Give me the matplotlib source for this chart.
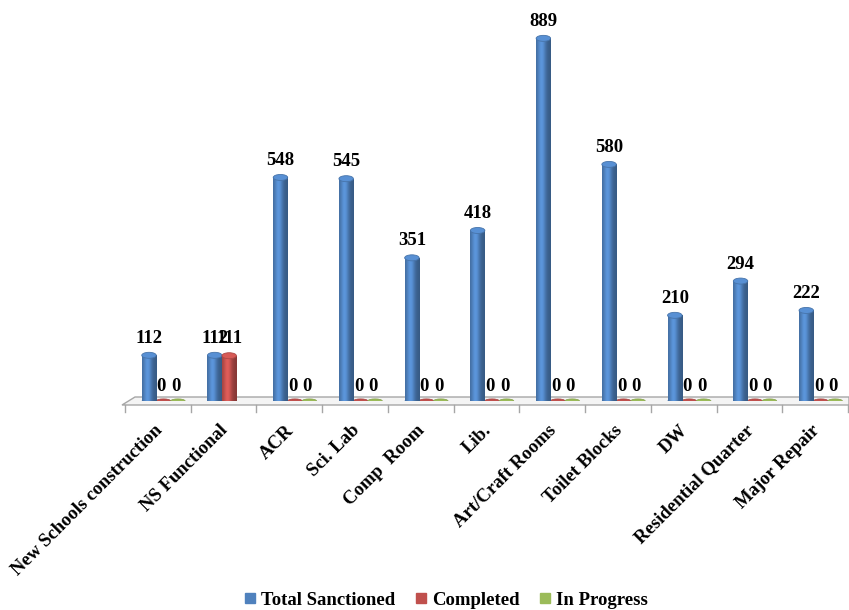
import numpy as np
import matplotlib
matplotlib.use("Agg")
import matplotlib.pyplot as plt
from matplotlib.patches import Ellipse, Polygon
from matplotlib.lines import Line2D
from matplotlib.colors import to_rgb

categories = ["New Schools construction", "NS Functional", "ACR", "Sci. Lab",
              "Comp  Room", "Lib.", "Art/Craft Rooms", "Toilet Blocks", "DW",
              "Residential Quarter", "Major Repair"]
total_sanctioned = [112, 112, 548, 545, 351, 418, 889, 580, 210, 294, 222]
completed = [0, 111, 0, 0, 0, 0, 0, 0, 0, 0, 0]
in_progress = [0, np.nan, 0, 0, 0, 0, 0, 0, 0, 0, 0]

series = [("Total Sanctioned", total_sanctioned, "#4F81BD"),
          ("Completed", completed, "#C0504D"),
          ("In Progress", in_progress, "#9BBB59")]
offsets = [-0.135, 0.085, 0.305]
bar_w = 0.22
FS = 13.5

plt.rcParams["font.family"] = ["Liberation Serif", "DejaVu Serif"]
plt.rcParams["font.weight"] = "bold"

fig = plt.figure(figsize=(8.49, 6.10), dpi=100)
ax = fig.add_axes([125 / 849, 209 / 610, 723 / 849, 381 / 610])
ymax = 934
ax.set_xlim(-0.5, len(categories) - 0.5)
ax.set_ylim(0, ymax)
ax.axis("off")

px_per_unit = 381 / ymax
cap_h = 6 / px_per_unit


def shade(color, n=64):
    r, g, b = to_rgb(color)
    t = np.linspace(0, 1, n)
    # light band left of centre, darker toward edges
    f = 0.80 + 0.40 * np.exp(-((t - 0.38) / 0.28) ** 2) - 0.1 * t
    rgb = np.clip(np.stack([r * f, g * f, b * f], axis=-1), 0, 1)
    return rgb[np.newaxis, :, :]


x = np.arange(len(categories))


def ax_pt(px, py):
    return ((px - 125) / 723, (401 - py) / 381)


# floor of the category axis
floor = Polygon([ax_pt(122, 405), ax_pt(135, 397), ax_pt(849, 397), ax_pt(849, 405)],
                closed=True, transform=ax.transAxes, facecolor="#F4F4F4",
                edgecolor="#A6A6A6", linewidth=1.0, clip_on=False, zorder=1)
ax.add_patch(floor)
for i in range(len(categories) + 1):
    tx = i / len(categories)
    ax.add_line(Line2D([tx, tx], [ax_pt(0, 405)[1], ax_pt(0, 412)[1]],
                       transform=ax.transAxes, color="#A6A6A6", lw=1.0,
                       clip_on=False, zorder=1))

for (name, vals, col), off in zip(series, offsets):
    for xi, v in zip(x, vals):
        if v is None or np.isnan(v):
            continue
        cx = xi + off
        if v > 0:
            bars = ax.bar(cx, v, width=bar_w, color=col, linewidth=0, zorder=3)
            rect = bars[0]
            im = ax.imshow(shade(col), extent=(cx - bar_w / 2, cx + bar_w / 2, 0, v),
                           aspect="auto", zorder=4, interpolation="bilinear")
            im.set_clip_path(rect)
            bottom = Ellipse((cx, 0), bar_w, cap_h, facecolor=np.array(to_rgb(col)) * 0.85,
                             edgecolor="none", zorder=3.5)
            ax.add_patch(bottom)
            top = Ellipse((cx, v), bar_w, cap_h,
                          facecolor=np.clip(np.array(to_rgb(col)) * 1.12, 0, 1),
                          edgecolor=np.array(to_rgb(col)) * 0.9, linewidth=0.6, zorder=5)
            ax.add_patch(top)
            ax.annotate(f"{int(v)}", (cx, v), xytext=(0, 6), textcoords="offset points",
                        ha="center", va="bottom", fontsize=FS, fontweight="bold", zorder=6)
        else:
            flat = Ellipse((cx, 0), bar_w, cap_h * 0.7, facecolor=col,
                           edgecolor=np.array(to_rgb(col)) * 0.85, linewidth=0.5, zorder=3)
            ax.add_patch(flat)
            ax.annotate("0", (cx, 0), xytext=(-1.5, 4), textcoords="offset points",
                        ha="center", va="bottom", fontsize=FS, fontweight="bold", zorder=6)

# category labels, rotated
for xi, lab in zip(x, categories):
    ax.annotate(lab, (xi, 0), xycoords="data", xytext=(-3, -15), textcoords="offset points",
                rotation=45, rotation_mode="anchor", ha="right", va="top",
                fontsize=FS, fontweight="bold", annotation_clip=False)

handles = [Line2D([], [], marker="s", linestyle="none", markersize=6.5,
                  markerfacecolor=c, markeredgecolor=c) for _, _, c in series]
fig.legend(handles, [s[0] for s in series], loc="lower center", ncol=3,
           bbox_to_anchor=(0.524, -0.026), frameon=False, fontsize=FS,
           handletextpad=0.15, columnspacing=0.9, handlelength=0.9)

fig.savefig("out.png", dpi=100)
